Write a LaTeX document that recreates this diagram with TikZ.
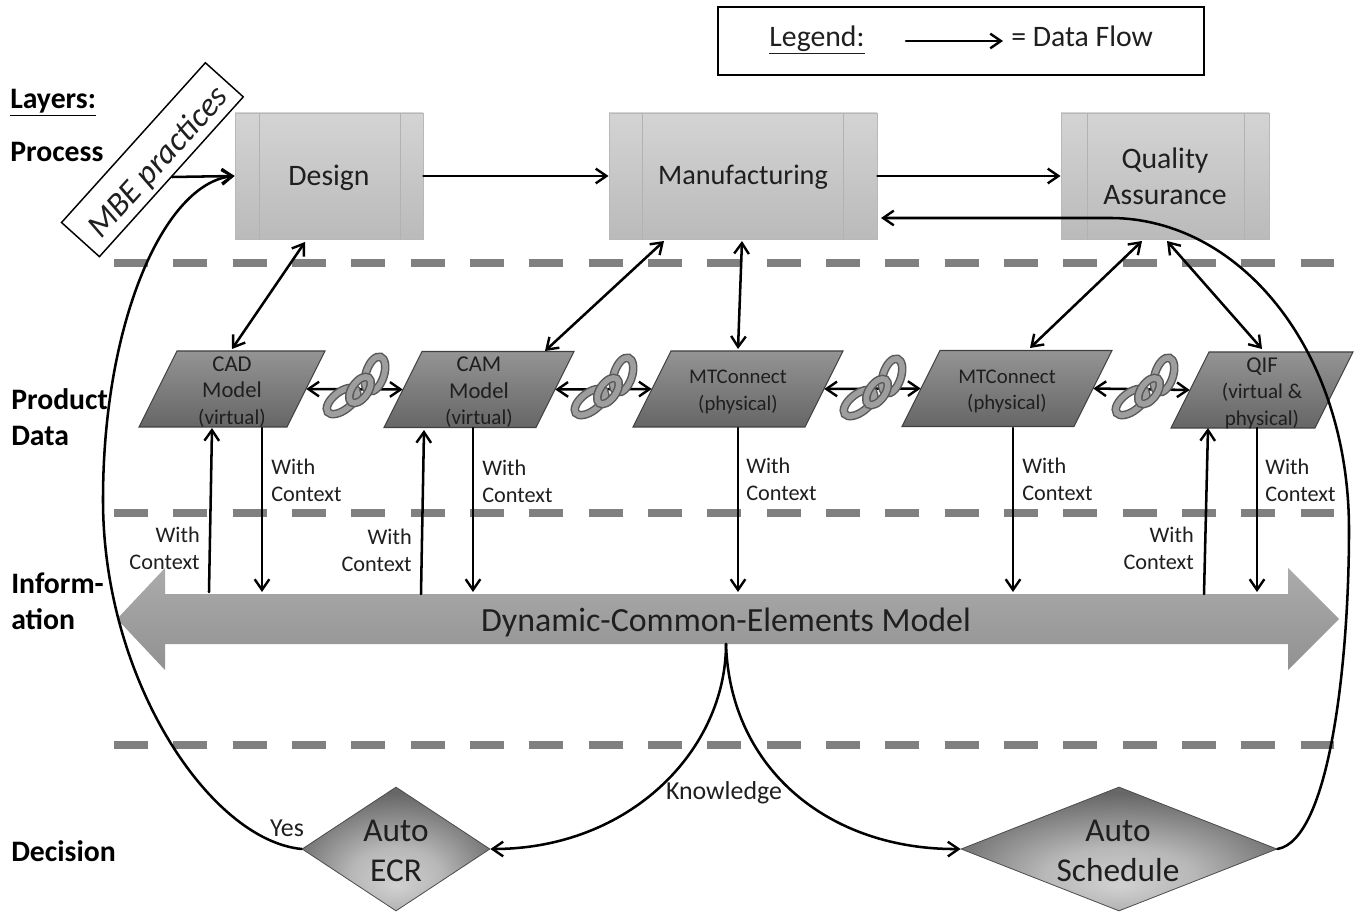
\documentclass[tikz,border=0pt]{standalone}
\usepackage{fontspec}
\setmainfont{Carlito}
\usetikzlibrary{arrows.meta,shapes.geometric,calc}
\definecolor{txt}{gray}{0.12}
\pgfdeclareradialshading{diam}{\pgfpoint{0bp}{-15bp}}{
  color(0bp)=(black!18); color(12bp)=(black!28); color(29bp)=(black!60); color(40bp)=(black!52); color(50bp)=(black!52)}
\newcommand{\smtxt}{\fontsize{15.8}{19.8}\selectfont}
\newcommand{\mttxt}{\fontsize{15.6}{19}\selectfont}
\tikzset{
  x=0.75pt,y=-0.75pt,
  flow/.style={line width=1.9pt,black,-{Straight Barb[length=8pt,width=11pt,line width=1.8pt]},line cap=round},
  dflow/.style={line width=1.9pt,black,{Straight Barb[length=8pt,width=11pt,line width=1.8pt]}-{Straight Barb[length=8pt,width=11pt,line width=1.8pt]}},
  proc/.style={rectangle,draw=black!28,line width=0.7pt,top color=black!17,bottom color=black!27,text=txt,align=center,inner sep=0pt},
  proctxt/.style={inner sep=0pt,text=txt,align=center,font=\fontsize{22.3}{27}\selectfont},
  parabody/.style={draw=black!75,line width=0.8pt,top color=black!42,bottom color=black!60},
  paralabel/.style={rectangle,inner sep=0pt,minimum height=57pt},
  paratxt/.style={inner sep=0pt,text=txt,align=center,font=\fontsize{17}{19.8}\selectfont},
  ctx/.style={align=left,text=txt,font=\fontsize{16.7}{20.3}\selectfont,inner sep=0pt,anchor=north west},
  ctxr/.style={ctx,align=right,anchor=north east},
  layer/.style={align=left,font=\bfseries\fontsize{22.3}{27}\selectfont,inner sep=0pt,anchor=west,text=black},
  sep/.style={line width=6pt,black!50,dash pattern=on 25.5pt off 19pt},
  dia/.style={diamond,aspect=2,inner sep=0pt,shading=diam,draw=black!70,line width=0.6pt},
  diatxt/.style={inner sep=0pt,align=center,text=txt,font=\fontsize{25}{30}\selectfont},
  lab/.style={inner sep=0pt,text=txt,font=\fontsize{19.4}{23}\selectfont},
}
% parallelogram: name, cx, half body width, cy, text
\newcommand{\paranode}[5]{%
  \path[parabody] (#2-#3+19,#4-38) -- (#2+#3+19,#4-38) -- (#2+#3-19,#4+38) -- (#2-#3-19,#4+38) -- cycle;
  \node[paralabel,minimum width=#3*1.5pt] (#1) at (#2,#4) {};
  \node[paratxt] (#1t) at (#2,#4+3) {#5};}
\newcommand{\onelink}[5]{% dx dy angle rx ry
  \draw[black!65,line width=6.4pt,rotate around={#3:(#1,#2)}] (#1,#2) ellipse [x radius=#4,y radius=#5];
  \draw[black!38,line width=4.2pt,rotate around={#3:(#1,#2)}] (#1,#2) ellipse [x radius=#4,y radius=#5];}
\newcommand{\chainat}[2]{%
  \begin{scope}[shift={(#1,#2)}]
    \onelink{19}{-13}{72}{18}{9}
    \onelink{-14}{14}{38}{18}{9}
    \onelink{4}{3}{55}{15}{8}
  \end{scope}}
\begin{document}
\begin{tikzpicture}
\useasboundingbox (0,0) rectangle (1360,912);
\fill[white] (0,0) rectangle (1360,912);

% separators
\draw[sep] (114,263) -- (1334,263);
\draw[sep] (114,513) -- (1334,513);
\draw[sep] (114,745) -- (1334,745);

% legend
\node[draw=black,line width=1.1pt,minimum width=486*0.75pt,minimum height=68*0.75pt,inner sep=0pt] (legend) at (961,41) {};
\node[inner sep=0pt,font=\fontsize{22.3}{25}\selectfont,text=txt] (legtxt) at (817,40) {\underline{Legend:}};
\node[inner sep=0pt,font=\fontsize{22.3}{25}\selectfont,text=txt,anchor=west] (legdf) at (1011,36) {= Data Flow};
\coordinate (legs) at (906,41);
\coordinate (lege) at (1003,41);
\draw[flow] (legs) -- (lege);

% layers
\node[layer] (l0) at (10,103) {\underline{Layers:}};
\node[layer] (l1) at (10,152) {Process};
\node[layer] (l2) at (11,417) {Product\\Data};
\node[layer] (l3) at (11,601) {Inform-\\ation};
\node[layer] (l4) at (11,851) {Decision};

% process boxes
\node[proc,minimum width=188*0.75pt,minimum height=126*0.75pt] (design) at (329,176) {};
\node[proc,minimum width=268*0.75pt,minimum height=126*0.75pt] (manu) at (743,176) {};
\node[proc,minimum width=208*0.75pt,minimum height=126*0.75pt] (qa) at (1165,176) {};
\draw[black!30,line width=0.7pt] (259,113) -- (259,239) (400,113) -- (400,239);
\draw[black!30,line width=0.7pt] (642,113) -- (642,239) (843,113) -- (843,239);
\draw[black!30,line width=0.7pt] (1087,113) -- (1087,239) (1244,113) -- (1244,239);
\node[proctxt] (designt) at (329,178) {Design};
\node[proctxt,font=\fontsize{21.2}{27}\selectfont] (manut) at (743,177) {Manufacturing};
\node[proctxt] (qat) at (1165,176) {Quality\\Assurance};

% MBE
\node[draw=black,line width=1.1pt,fill=white,rotate=48,minimum width=215*0.75pt,minimum height=51*0.75pt,inner sep=0pt] (mbe) at (152.4,159.7) {};
\node[rotate=48,inner sep=0pt,font=\itshape\fontsize{25}{28}\selectfont,text=txt] (mbet) at (159,163) {MBE practices};

% product data
\paranode{cad}{232}{74}{389}{CAD\\Model\\{\smtxt(virtual)}}
\paranode{cam}{479}{76}{389.5}{CAM\\Model\\{\smtxt(virtual)}}
\paranode{mt1}{738}{86}{389}{\mttxt MTConnect\\\mttxt(physical)}
\paranode{mt2}{1007}{86}{388.5}{\mttxt MTConnect\\\mttxt(physical)}
\paranode{qif}{1262}{72}{390}{QIF\\{\smtxt(virtual \&}\\{\smtxt physical)}}

% main arrow
\shade[top color=black!33,bottom color=black!43]
 (117,619) -- (165,568) -- (165,594) -- (1288,594) -- (1288,568) -- (1339,619) -- (1288,670) -- (1288,644) -- (165,644) -- (165,670) -- cycle;
\node[inner sep=0pt,text=txt,font=\fontsize{25.4}{30}\selectfont] (dcem) at (726,622) {Dynamic-Common-Elements Model};

% decisions
\node[dia,minimum width=188*0.75pt,minimum height=124*0.75pt] (ecr) at (396,849) {};
\node[diatxt] (ecrt) at (396,851) {Auto\\ECR};
\node[dia,minimum width=316*0.75pt,minimum height=124*0.75pt] (sched) at (1119,849) {};
\node[diatxt] (schedt) at (1118,851) {Auto\\Schedule};

% process flows
\draw[flow] (design.east) -- (manu.west);
\draw[flow] (manu.east) -- (qa.west);
\coordinate (mbeout) at (172,177);
\draw[flow] (mbeout) -- (design.west);

% process <-> product
\coordinate (d1) at (305,242); \coordinate (c1) at (232,349);
\draw[dflow] (d1) -- (c1);
\coordinate (m1) at (664,241); \coordinate (c2) at (545,351);
\draw[dflow] (m1) -- (c2);
\coordinate (m2) at (742,241); \coordinate (c3) at (738,349);
\draw[dflow] (m2) -- (c3);
\coordinate (q1) at (1142,241); \coordinate (c4) at (1030,348);
\draw[dflow] (q1) -- (c4);
\coordinate (q2) at (1167,241); \coordinate (c5) at (1262,349);
\draw[dflow] (q2) -- (c5);

% product <-> product (below chains)
\draw[dflow] (cad.east) -- (cam.west);
\draw[dflow] (cam.east) -- (mt1.west);
\draw[dflow] (mt1.east) -- (mt2.west);
\draw[dflow] (mt2.east) -- (qif.west);
\chainat{356}{387}
\chainat{604}{388}
\chainat{873}{389}
\chainat{1145}{388}

% with-context arrows
\foreach \n/\a/\b/\c/\d in {a/209/592/212/428,b/421/594/424/430,c/1204/594/1208/428}{
  \coordinate (\n s) at (\a,\b); \coordinate (\n e) at (\c,\d);
  \draw[flow] (\n s) -- (\n e);
}
\foreach \n/\a/\b in {p/262/428,q/473/428,r/738/428,s/1013/428,t/1257/428}{
  \coordinate (\n s) at (\a,\b); \coordinate (\n e) at (\a,592);
  \draw[flow] (\n s) -- (\n e);
}
\node[ctx] (w1) at (271,458.5) {With\\Context};
\node[ctx] (w2) at (482,459.5) {With\\Context};
\node[ctx] (w3) at (746,457.5) {With\\Context};
\node[ctx] (w4) at (1022,457.5) {With\\Context};
\node[ctx] (w5) at (1265,458.5) {With\\Context};
\node[ctxr] (w6) at (200,527) {With\\Context};
\node[ctxr] (w7) at (412,529) {With\\Context};
\node[ctxr] (w8) at (1194,527) {With\\Context};

% decision curves
\coordinate (dbot) at (726,644);
\draw[flow] (dbot) .. controls (726,750) and (630,849) .. (ecr.east);
\draw[flow] (dbot) .. controls (730,770) and (830,850) .. (sched.west);
\draw[flow] (ecr.west) .. controls (210,840) and (103,680) .. (103,500) .. controls (103,320) and (165,183) .. (design.west);
\coordinate (qaret) at (881,218);
\draw[flow] (sched.east) .. controls (1330,840) and (1349,660) .. (1349,530) .. controls (1349,350) and (1240,218) .. (1110,218) -- (qaret);

\node[lab] (yes) at (287,828) {Yes};
\node[lab] (kn) at (724,793) {Knowledge};
\end{tikzpicture}
\end{document}
